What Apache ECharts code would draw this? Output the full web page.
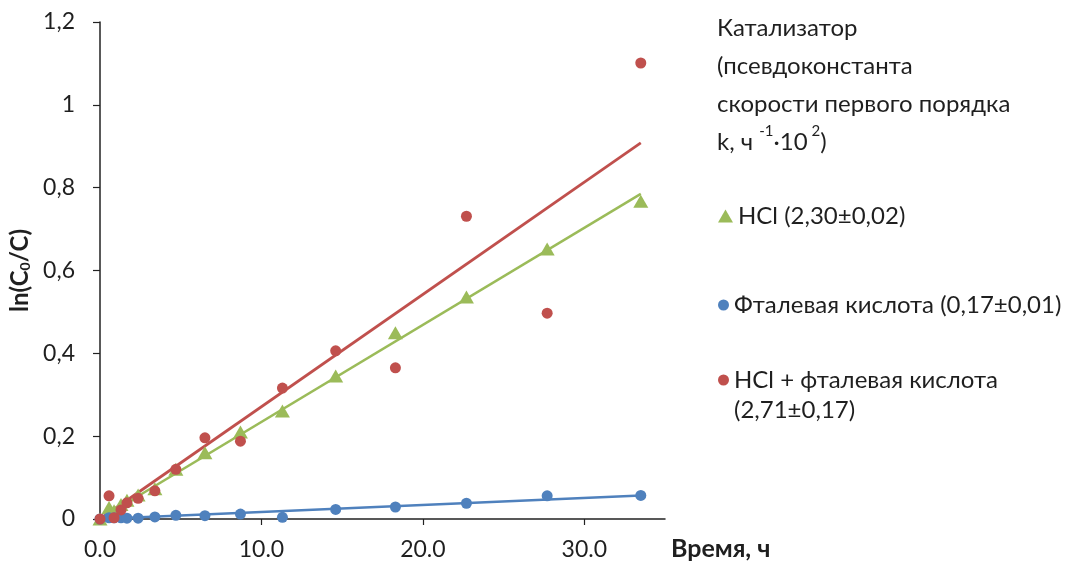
<!DOCTYPE html>
<html>
<head>
<meta charset="utf-8">
<script src="https://cdn.jsdelivr.net/npm/echarts@6/dist/echarts.min.js"></script>
<style>html,body{margin:0;padding:0;background:#fff}#c{width:1067px;height:563px}</style>
</head>
<body>
<div id="c"></div>
<script>
// time, h
const time = [0, 0.56, 0.87, 1.3, 1.67, 2.36, 3.4, 4.7, 6.5, 8.7, 11.3, 14.6, 18.3, 22.7, 27.7, 33.5];
// ln(C0/C)
const hcl  = [0, 0.028, 0.02, 0.035, 0.045, 0.058, 0.073, 0.12, 0.16, 0.21, 0.261, 0.345, 0.45, 0.536, 0.652, 0.767];
const phth = [0, 0.003, 0.003, 0.003, 0.002, 0.002, 0.005, 0.009, 0.008, 0.012, 0.004, 0.023, 0.029, 0.038, 0.056, 0.057];
const mix  = [0, 0.056, 0.003, 0.022, 0.039, 0.05, 0.068, 0.12, 0.196, 0.188, 0.316, 0.406, 0.365, 0.731, 0.497, 1.101];
// linear fits (endpoints)
const fitX    = [0, 33.5];
const hclFit  = [0, 0.785];
const phthFit = [0, 0.057];
const mixFit  = [0, 0.908];
const xTicks = [0, 10, 20, 30];
const names = ['HCl (2,30±0,02)', 'Фталевая кислота (0,17±0,01)', 'HCl + фталевая кислота (2,71±0,17)'];

const zip = (xs, ys) => xs.map((x, i) => [x, ys[i]]);
const FONT = 'Lato, "Open Sans", sans-serif';
const TXT = '#1f1f1f';
const C_G = '#9BBB59', C_B = '#4F81BD', C_R = '#C0504D';

const chart = echarts.init(document.getElementById('c'), null, {renderer: 'canvas'});
const legendBase = {
  orient: 'vertical', left: 718, padding: 0, itemWidth: 15, itemHeight: 13,
  selectedMode: false,
  textStyle: {fontFamily: FONT, fontSize: 24, color: TXT, lineHeight: 30}
};
chart.setOption({
  animation: false,
  backgroundColor: '#fff',
  title: {
    left: 717, top: 9, padding: 0,
    text: 'Катализатор\n(псевдоконстанта\nскорости первого порядка\nk, ч {sup|-1}·10{sup| 2})',
    textStyle: {
      fontFamily: FONT, fontSize: 24, fontWeight: 'normal', color: TXT, lineHeight: 38,
      rich: {sup: {fontFamily: FONT, fontSize: 15, color: TXT, verticalAlign: 'top', lineHeight: 15, padding: [1, 0, 0, 0]}}
    }
  },
  legend: [
    Object.assign({}, legendBase, {top: 201, data: [{name: names[0], icon: 'triangle'}]}),
    Object.assign({}, legendBase, {top: 290, itemWidth: 11, itemHeight: 11, data: [{name: names[1], icon: 'circle'}]}),
    Object.assign({}, legendBase, {top: 335, itemWidth: 11, itemHeight: 11, data: [{name: names[2], icon: 'circle'}],
      formatter: () => '\nHCl + фталевая кислота\n(2,71±0,17)'})
  ],
  grid: {left: 100, right: 402, top: 22, bottom: 44, containLabel: false},
  xAxis: {
    type: 'value', min: 0, max: 35, interval: 10,
    name: 'Время, ч', nameLocation: 'end', nameGap: 6,
    nameTextStyle: {fontFamily: FONT, fontSize: 25, fontWeight: 'bold', color: TXT, align: 'left', verticalAlign: 'top', padding: [17, 0, 0, 0]},
    axisLine: {show: true, onZero: false, lineStyle: {color: '#222', width: 1.5}},
    axisTick: {show: true, length: 6, inside: false, customValues: xTicks, lineStyle: {color: '#222', width: 1.2}},
    axisLabel: {customValues: xTicks, margin: 19, fontFamily: FONT, fontSize: 23, color: TXT,
      formatter: v => v.toFixed(1)},
    splitLine: {show: false}
  },
  yAxis: {
    type: 'value', min: 0, max: 1.2, interval: 0.2,
    name: 'ln(C{s|0}/C)', nameLocation: 'middle', nameGap: 66, nameRotate: 90,
    nameTextStyle: {fontFamily: FONT, fontSize: 24, fontWeight: 'bold', color: TXT,
      rich: {s: {fontFamily: FONT, fontSize: 14, fontWeight: 'bold', color: TXT, verticalAlign: 'bottom', padding: [9, 0, 0, 0]}}},
    axisLine: {show: true, lineStyle: {color: '#222', width: 1.5}},
    axisTick: {show: true, length: 7, inside: false, lineStyle: {color: '#222', width: 1.2}},
    axisLabel: {margin: 25, fontFamily: FONT, fontSize: 23, color: TXT,
      formatter: v => String(Math.round(v * 10) / 10).replace('.', ',')},
    splitLine: {show: false}
  },
  series: [
    {name: names[0] + ' fit', type: 'line', data: zip(fitX, hclFit), symbol: 'none', silent: true, z: 2,
      lineStyle: {color: C_G, width: 2.5}},
    {name: names[1] + ' fit', type: 'line', data: zip(fitX, phthFit), symbol: 'none', silent: true, z: 2,
      lineStyle: {color: C_B, width: 2.5}},
    {name: names[2] + ' fit', type: 'line', data: zip(fitX, mixFit), symbol: 'none', silent: true, z: 2,
      lineStyle: {color: C_R, width: 2.8}},
    {name: names[0], type: 'scatter', data: zip(time, hcl), symbol: 'triangle', symbolSize: [15, 13], z: 3,
      itemStyle: {color: C_G, opacity: 1}},
    {name: names[1], type: 'scatter', data: zip(time, phth), symbol: 'circle', symbolSize: 11, z: 3,
      itemStyle: {color: C_B, opacity: 1}},
    {name: names[2], type: 'scatter', data: zip(time, mix), symbol: 'circle', symbolSize: 11, z: 4,
      itemStyle: {color: C_R, opacity: 1}}
  ]
});
</script>
</body>
</html>
